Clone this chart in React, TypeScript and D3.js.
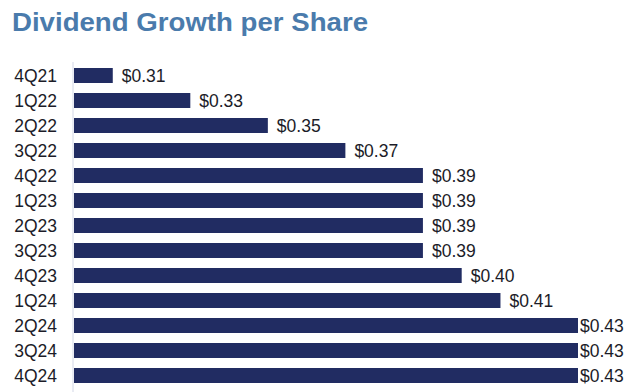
import * as d3 from 'd3';

const quarters = ['4Q21', '1Q22', '2Q22', '3Q22', '4Q22', '1Q23', '2Q23', '3Q23', '4Q23', '1Q24', '2Q24', '3Q24', '4Q24'];
const dividends = [0.31, 0.33, 0.35, 0.37, 0.39, 0.39, 0.39, 0.39, 0.40, 0.41, 0.43, 0.43, 0.43];

const width = 640;
const height = 392;
const left = 74;
const right = 578;

function App() {
  const x = d3.scaleLinear().domain([0.3, 0.43]).range([left, right]);
  const y = d3.scaleBand<string>().domain(quarters).range([63, 388]).paddingInner(0.4).paddingOuter(0.2);
  const font = 'Arial, "Liberation Sans", sans-serif';

  return (
    <svg width={width} height={height} style={{ position: 'absolute', left: 0, top: 0 }}>
      <rect width={width} height={height} fill="#ffffff" />
      <text x={12} y={30.5} fontFamily={font} fontWeight="bold" fontSize={26.5} textLength={356} lengthAdjust="spacingAndGlyphs" fill="#4a7bac">
        Dividend Growth per Share
      </text>
      <line x1={left - 1} x2={left - 1} y1={62} y2={height} stroke="#d3d7e6" strokeWidth={1} />
      {quarters.map((q, i) => {
        const v = dividends[i];
        const yy = y(q) ?? 0;
        const end = x(v);
        const lx = Math.min(end + 9, right + 2);
        return (
          <g key={q}>
            <rect x={left} y={yy} width={end - left} height={y.bandwidth()} fill="#212c62" />
            <text x={57} y={yy + y.bandwidth() / 2} dy="0.36em" textAnchor="end" fontFamily={font} fontSize={17.5} fill="#1c1c28">
              {q}
            </text>
            <text x={lx} y={yy + y.bandwidth() / 2} dy="0.36em" fontFamily={font} fontSize={17.5} fill="#1c1c28">
              {d3.format('$.2f')(v)}
            </text>
          </g>
        );
      })}
    </svg>
  );
}

export default App;
